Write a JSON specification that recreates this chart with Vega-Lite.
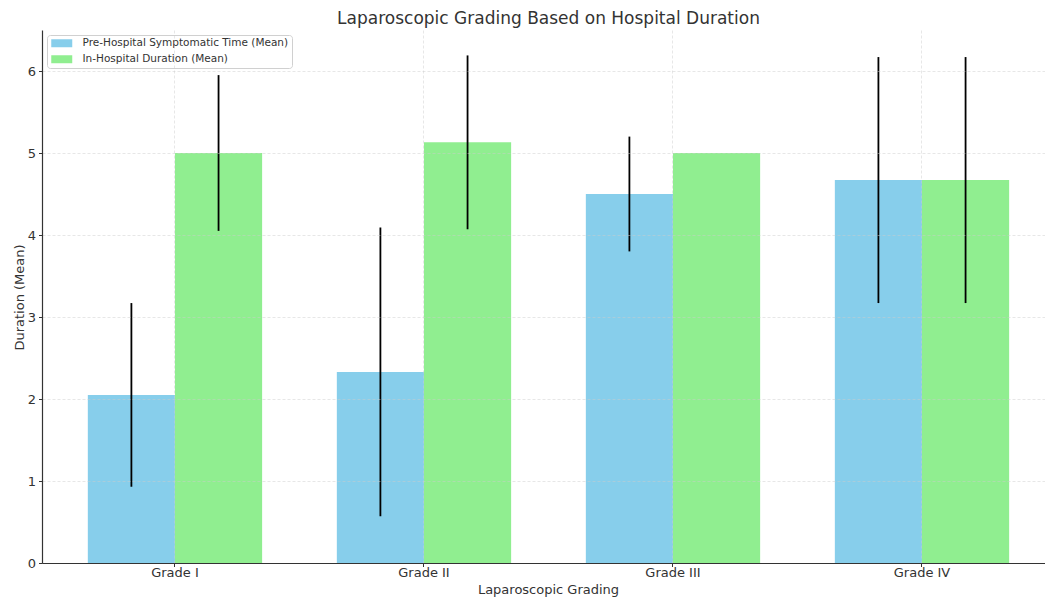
{
  "$schema": "https://vega.github.io/schema/vega-lite/v6.json",
  "width": 1003,
  "height": 533,
  "autosize": {"type": "none"},
  "padding": {"left": 42, "top": 30, "right": 0, "bottom": 34},
  "background": "white",
  "title": {
    "text": "Laparoscopic Grading Based on Hospital Duration",
    "fontSize": 17,
    "font": "DejaVu Sans",
    "fontWeight": "normal",
    "color": "#333333",
    "anchor": "middle",
    "offset": 2,
    "dx": 5
  },
  "config": {
    "view": {"stroke": null},
    "font": "DejaVu Sans"
  },
  "data": {
    "values": [
      {"grade": "Grade I", "series": "Pre-Hospital Symptomatic Time (Mean)", "mean": 2.05, "lower": 0.93, "upper": 3.17},
      {"grade": "Grade I", "series": "In-Hospital Duration (Mean)", "mean": 5.0, "lower": 4.05, "upper": 5.95},
      {"grade": "Grade II", "series": "Pre-Hospital Symptomatic Time (Mean)", "mean": 2.33, "lower": 0.57, "upper": 4.09},
      {"grade": "Grade II", "series": "In-Hospital Duration (Mean)", "mean": 5.13, "lower": 4.07, "upper": 6.19},
      {"grade": "Grade III", "series": "Pre-Hospital Symptomatic Time (Mean)", "mean": 4.5, "lower": 3.8, "upper": 5.2},
      {"grade": "Grade III", "series": "In-Hospital Duration (Mean)", "mean": 5.0, "lower": 5.0, "upper": 5.0},
      {"grade": "Grade IV", "series": "Pre-Hospital Symptomatic Time (Mean)", "mean": 4.67, "lower": 3.17, "upper": 6.17},
      {"grade": "Grade IV", "series": "In-Hospital Duration (Mean)", "mean": 4.67, "lower": 3.17, "upper": 6.17}
    ]
  },
  "encoding": {
    "x": {
      "field": "grade",
      "type": "nominal",
      "sort": ["Grade I", "Grade II", "Grade III", "Grade IV"],
      "scale": {"paddingInner": 0.3, "paddingOuter": 0.164, "align": 0.561},
      "axis": {
        "title": "Laparoscopic Grading",
        "titleFontSize": 13,
        "titleFontWeight": "normal",
        "titleColor": "#333333",
        "titleX": 506,
        "titleY": 26,
        "titleBaseline": "middle",
        "titleAlign": "center",
        "labelAngle": 0,
        "labelFontSize": 13,
        "labelColor": "#333333",
        "labelPadding": 0,
        "bandPosition": 0.5,
        "tickSize": 3.5,
        "tickColor": "#333333",
        "domainColor": "#333333",
        "domainWidth": 1.2,
        "grid": true,
        "gridColor": "#cccccc",
        "gridDash": [3, 2],
        "gridWidth": 0.8,
        "gridOpacity": 0.6,
        "zindex": 1
      }
    },
    "xOffset": {
      "field": "series",
      "type": "nominal",
      "sort": ["Pre-Hospital Symptomatic Time (Mean)", "In-Hospital Duration (Mean)"],
      "scale": {"paddingInner": 0, "paddingOuter": 0}
    }
  },
  "layer": [
    {
      "mark": {"type": "bar"},
      "encoding": {
        "y": {
          "field": "mean",
          "type": "quantitative",
          "scale": {"domain": [0, 6.5], "nice": false},
          "axis": {
            "title": "Duration (Mean)",
            "titleFontSize": 13,
            "titleFontWeight": "normal",
            "titleColor": "#333333",
            "titleX": -23,
            "titleY": 267,
            "titleBaseline": "middle",
            "titleAlign": "center",
            "titleAngle": -90,
            "values": [0, 1, 2, 3, 4, 5, 6],
            "format": "d",
            "labelFontSize": 13,
            "labelColor": "#333333",
            "labelPadding": 3,
            "tickSize": 3.5,
            "tickColor": "#333333",
            "domainColor": "#333333",
            "domainWidth": 1.2,
            "grid": true,
            "gridColor": "#cccccc",
            "gridDash": [3, 2],
            "gridWidth": 0.8,
            "gridOpacity": 0.6,
            "zindex": 1
          }
        },
        "color": {
          "field": "series",
          "type": "nominal",
          "scale": {
            "domain": ["Pre-Hospital Symptomatic Time (Mean)", "In-Hospital Duration (Mean)"],
            "range": ["#87CEEB", "#90EE90"]
          },
          "legend": {
            "title": null,
            "orient": "none",
            "legendX": 5,
            "legendY": 5,
            "padding": 3,
            "fillColor": "white",
            "strokeColor": "#d0d0d0",
            "cornerRadius": 3,
            "symbolType": "M-1,-1H4.25V1H-1Z",
            "symbolSize": 64,
            "symbolStrokeWidth": 0,
            "symbolOpacity": 1,
            "labelFontSize": 10.5,
            "labelColor": "#333333",
            "labelOffset": 22,
            "labelLimit": 0,
            "rowPadding": 5
          }
        }
      }
    },
    {
      "mark": {"type": "rule", "color": "black", "strokeWidth": 1.8},
      "encoding": {
        "y": {"field": "lower", "type": "quantitative"},
        "y2": {"field": "upper"}
      }
    }
  ]
}
